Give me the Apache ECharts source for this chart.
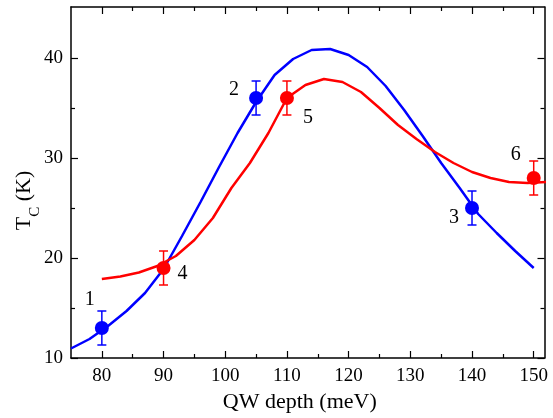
<!DOCTYPE html>
<html><head><meta charset="utf-8">
<script src="https://cdn.jsdelivr.net/npm/echarts@6/dist/echarts.min.js"></script>
<style>html,body{margin:0;padding:0;background:#fff}#c{width:553px;height:418px}</style>
</head><body><div id="c"></div>
<script>
const xMajorTicks = [80, 90, 100, 110, 120, 130, 140, 150];
const xMinorTicks = [85, 95, 105, 115, 125, 135, 145];
const yMajorTicks = [10, 20, 30, 40];
const yMinorTicks = [15, 25, 35];

const blueCurveX = [75, 78, 81, 84, 87, 90, 93, 96, 99, 102, 105, 108, 111, 114, 117, 120, 123, 126, 129, 132, 135, 138, 141, 144, 147, 150];
const blueCurveY = [10.95, 11.9, 13.2, 14.7, 16.5, 18.9, 22.2, 25.6, 29.1, 32.5, 35.6, 38.3, 39.9, 40.8, 40.9, 40.3, 39.1, 37.2, 34.8, 32.2, 29.5, 27.0, 24.4, 22.5, 20.7, 19.0];
const redCurveX = [80, 83, 86, 89, 92, 95, 98, 101, 104, 107, 110, 113, 116, 119, 122, 125, 128, 131, 134, 137, 140, 143, 146, 149, 152];
const redCurveY = [17.9, 18.15, 18.55, 19.2, 20.2, 21.8, 24.0, 27.0, 29.5, 32.5, 36.0, 37.3, 37.9, 37.6, 36.6, 35.0, 33.3, 31.9, 30.6, 29.5, 28.6, 28.0, 27.6, 27.5, 27.6];

const bluePointsX = [80, 105, 140];
const bluePointsY = [13, 36, 25];
const blueErr = [1.7, 1.7, 1.7];
const blueLabels = ['1', '2', '3'];
const redPointsX = [90, 110, 150];
const redPointsY = [19, 36, 28];
const redErr = [1.7, 1.7, 1.7];
const redLabels = ['4', '5', '6'];

const BLUE = '#0000ff', RED = '#ff0000';
const FONT = 'Liberation Serif';
const X_MIN = 75, X_MAX = 151.75, Y_MIN = 10, Y_MAX = 45.1;

function xAxisDef(pos, ticks, len, withLabels, withLine) {
  const a = {
    type: 'value', position: pos, min: X_MIN, max: X_MAX,
    splitLine: { show: false },
    axisLine: { show: withLine, onZero: false, lineStyle: { color: '#000', width: 1.5 } },
    axisTick: { show: true, inside: true, length: len, customValues: ticks, lineStyle: { color: '#000', width: 1.2 } },
    axisLabel: { show: withLabels, customValues: ticks, margin: 9, color: '#000', fontSize: 19, fontFamily: FONT }
  };
  if (withLabels) {
    a.name = 'QW depth (meV)';
    a.nameLocation = 'middle';
    a.nameGap = 32;
    a.nameTextStyle = { fontSize: 22, fontFamily: FONT, color: '#000', padding: [0, 16, 0, 0] };
  }
  return a;
}
function yAxisDef(pos, ticks, len, withLabels, withLine) {
  const a = {
    type: 'value', position: pos, min: Y_MIN, max: Y_MAX,
    splitLine: { show: false },
    axisLine: { show: withLine, onZero: false, lineStyle: { color: '#000', width: 1.5 } },
    axisTick: { show: true, inside: true, length: len, customValues: ticks, lineStyle: { color: '#000', width: 1.2 } },
    axisLabel: { show: withLabels, customValues: ticks, margin: 8, color: '#000', fontSize: 19, fontFamily: FONT }
  };
  if (withLabels) {
    a.name = '{t|T}{s|C}{t| (K)}';
    a.nameLocation = 'middle';
    a.nameGap = 36;
    a.nameMoveOverlap = false;
    a.nameTextStyle = {
      color: '#000', fontFamily: FONT, padding: [0, 36, 0, 0],
      rich: {
        t: { fontSize: 22, lineHeight: 22, fontFamily: FONT, color: '#000' },
        s: { fontSize: 15, lineHeight: 15, fontFamily: FONT, color: '#000', padding: [22, 0, 0, 0] }
      }
    };
  }
  return a;
}

function errSeries(xs, ys, es, color) {
  return {
    type: 'custom', xAxisIndex: 0, yAxisIndex: 0, z: 3, silent: true,
    data: xs.map((x, i) => [x, ys[i], es[i]]),
    renderItem: function (params, api) {
      const x = api.value(0), y = api.value(1), e = api.value(2);
      const t = api.coord([x, y + e]), b = api.coord([x, y - e]);
      const hw = 4.5;
      const st = { stroke: color, lineWidth: 1.5 };
      return { type: 'group', children: [
        { type: 'line', shape: { x1: t[0], y1: t[1], x2: b[0], y2: b[1] }, style: st },
        { type: 'line', shape: { x1: t[0] - hw, y1: t[1], x2: t[0] + hw, y2: t[1] }, style: st },
        { type: 'line', shape: { x1: b[0] - hw, y1: b[1], x2: b[0] + hw, y2: b[1] }, style: st }
      ]};
    }
  };
}
function pointSeries(xs, ys, labels, offsets, color) {
  return {
    type: 'scatter', xAxisIndex: 0, yAxisIndex: 0, z: 4, symbol: 'circle', symbolSize: 14,
    itemStyle: { color: color, opacity: 1 },
    data: xs.map((x, i) => ({
      value: [x, ys[i]],
      label: { show: true, position: 'inside', offset: offsets[i], formatter: labels[i],
        color: '#000', fontSize: 20, fontFamily: FONT }
    }))
  };
}

const chart = echarts.init(document.getElementById('c'), null, { renderer: 'canvas' });
chart.setOption({
  animation: false,
  backgroundColor: '#fff',
  grid: { left: 71, right: 8.5, top: 7, bottom: 60, containLabel: false, outerBoundsMode: 'none' },
  xAxis: [
    xAxisDef('bottom', xMajorTicks, 7, true, true),
    xAxisDef('bottom', xMinorTicks, 4, false, false),
    xAxisDef('top', xMajorTicks, 7, false, true),
    xAxisDef('top', xMinorTicks, 4, false, false)
  ],
  yAxis: [
    yAxisDef('left', yMajorTicks, 7, true, true),
    yAxisDef('left', yMinorTicks, 4, false, false),
    yAxisDef('right', yMajorTicks, 7, false, true),
    yAxisDef('right', yMinorTicks, 4, false, false)
  ],
  series: [
    { type: 'line', xAxisIndex: 0, yAxisIndex: 0, z: 2, showSymbol: false, silent: true,
      data: blueCurveX.map((x, i) => [x, blueCurveY[i]]),
      lineStyle: { color: BLUE, width: 2.5 }, clip: true },
    { type: 'line', xAxisIndex: 0, yAxisIndex: 0, z: 2, showSymbol: false, silent: true,
      data: redCurveX.map((x, i) => [x, redCurveY[i]]),
      lineStyle: { color: RED, width: 2.5 }, clip: true },
    errSeries(bluePointsX, bluePointsY, blueErr, BLUE),
    errSeries(redPointsX, redPointsY, redErr, RED),
    pointSeries(bluePointsX, bluePointsY, blueLabels, [[-12, -28], [-22, -8], [-18, 10]], BLUE),
    pointSeries(redPointsX, redPointsY, redLabels, [[19, 6], [21, 20], [-18, -23]], RED)
  ]
});
</script>
</body></html>
